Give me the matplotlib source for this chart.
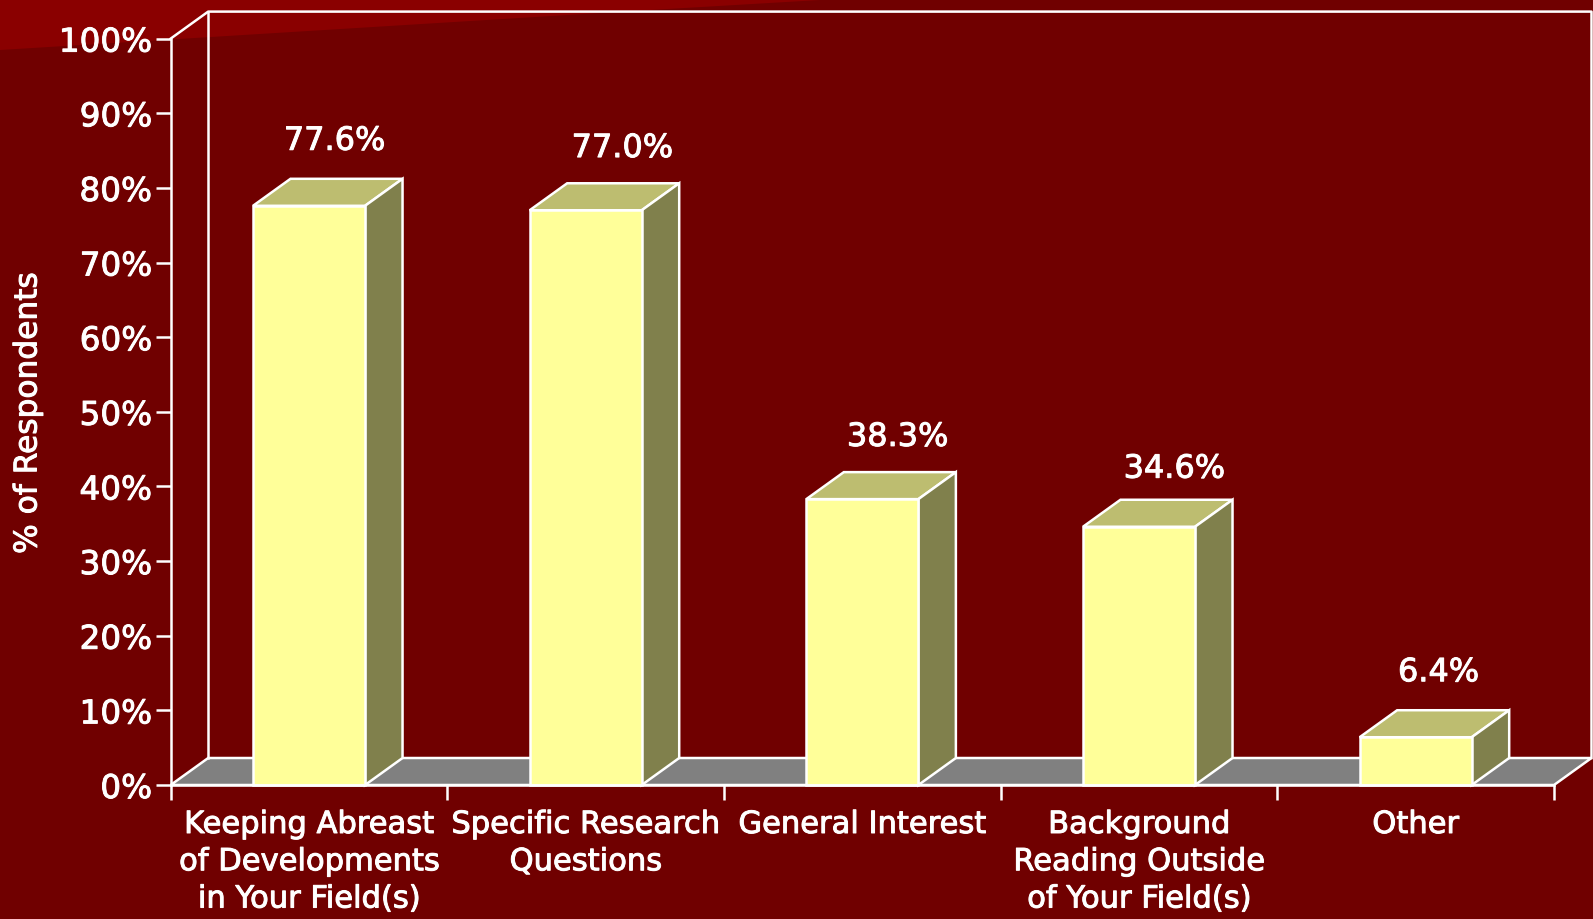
import matplotlib
matplotlib.use('Agg')
import matplotlib.pyplot as plt
import matplotlib.patheffects as pe
from matplotlib.patches import Polygon

# values
categories = ['Keeping Abreast\nof Developments\nin Your Field(s)','Specific Research\nQuestions','General Interest',
	'Background\nReading Outside\nof Your Field(s)','Other']
values = [77.6,77.0,38.3,34.6,6.4]
value_labels = ['77.6%','77.0%','38.3%','34.6%','6.4%']
yticks = [0,10,20,30,40,50,60,70,80,90,100]

bg = '#700000'
bright = '#8A0000'
front = '#FFFF99'
top = '#BDBD70'
side = '#80804C'
floor = '#808080'
W,H = 1593,919
lw = 1.8
plt.rcParams['font.family'] = ['DejaVu Sans']
# thickens the regular face a bit, the slide font is heavier
bold = [pe.withStroke(linewidth=0.7,foreground='white')]

fig = plt.figure(figsize=(W/100,H/100),dpi=100,facecolor=bg)
# brighter wedge in the top left of the slide
fig.add_artist(Polygon([(0,1),(0,1-50/H),(600/W,1-13/H),(820/W,1),],closed=True,transform=fig.transFigure,fc=bright,ec='none',zorder=-5))

ax = fig.add_axes([170.7/W,(H-785)/H,(1554-170.7)/W,(785-38.6)/H])
ax.patch.set_alpha(0)
ax.set_xlim(0,5)
ax.set_ylim(0,100)

# depth of the 3d box in data units
dx = 37.5/276.7
dy = 27/7.464
barw = 0.405

kw = dict(clip_on=False,lw=lw,ec='white')
ax.add_patch(Polygon([(0,0),(dx,dy),(5+dx,dy),(5,0)],fc=floor,zorder=1,**kw))
ax.plot([0,dx,5+dx,5+dx],[100,100+dy,100+dy,dy],color='white',lw=lw,clip_on=False,zorder=1)
ax.plot([dx,dx],[dy,100+dy],color='white',lw=lw,clip_on=False,zorder=1)

centers = [i+0.5 for i in range(len(values))]
nudge = [-3,5,4,4,-5]
nudge_y = [1,-1,-1,-4,1]
ax.bar(centers,values,width=barw,color=front,edgecolor='white',linewidth=lw,zorder=3,clip_on=False)
for c,v,s,n,m in zip(centers,values,value_labels,nudge,nudge_y):
	l,r = c-barw/2,c+barw/2
	ax.add_patch(Polygon([(l,v),(l+dx,v+dy),(r+dx,v+dy),(r,v)],fc=top,zorder=2,**kw))
	ax.add_patch(Polygon([(r,0),(r+dx,dy),(r+dx,v+dy),(r,v)],fc=side,zorder=2,**kw))
	ax.annotate(s,(c+dx/2+0.04,v+dy),xytext=(n,26+m),textcoords='offset points',ha='center',va='center',
		color='white',fontsize=23,path_effects=bold)

for sp in ['top','right']:
	ax.spines[sp].set_visible(False)
for sp in ['left','bottom']:
	ax.spines[sp].set_color('white')
	ax.spines[sp].set_linewidth(lw)
	ax.spines[sp].set_zorder(4)

ax.set_yticks(yticks)
ax.set_yticklabels([str(t)+'%' for t in yticks],color='white',fontsize=23.5,path_effects=bold)
ax.set_xticks(range(6))
ax.set_xticklabels(['']*6)
ax.tick_params(axis='y',color='white',length=10.5,width=lw,pad=3)
ax.tick_params(axis='x',color='white',length=10.5,width=lw)
for c,s in zip(centers,categories):
	ax.annotate(s,(c,0),xytext=(0,-18),textcoords='offset points',ha='center',va='top',color='white',
		fontsize=22,linespacing=1.36,annotation_clip=False,path_effects=bold)
fig.text(28/W,1-413/H,'% of Respondents',rotation=90,ha='center',va='center',color='white',fontsize=22.5,path_effects=bold)

fig.savefig('out.png',dpi=100,facecolor=fig.get_facecolor())
